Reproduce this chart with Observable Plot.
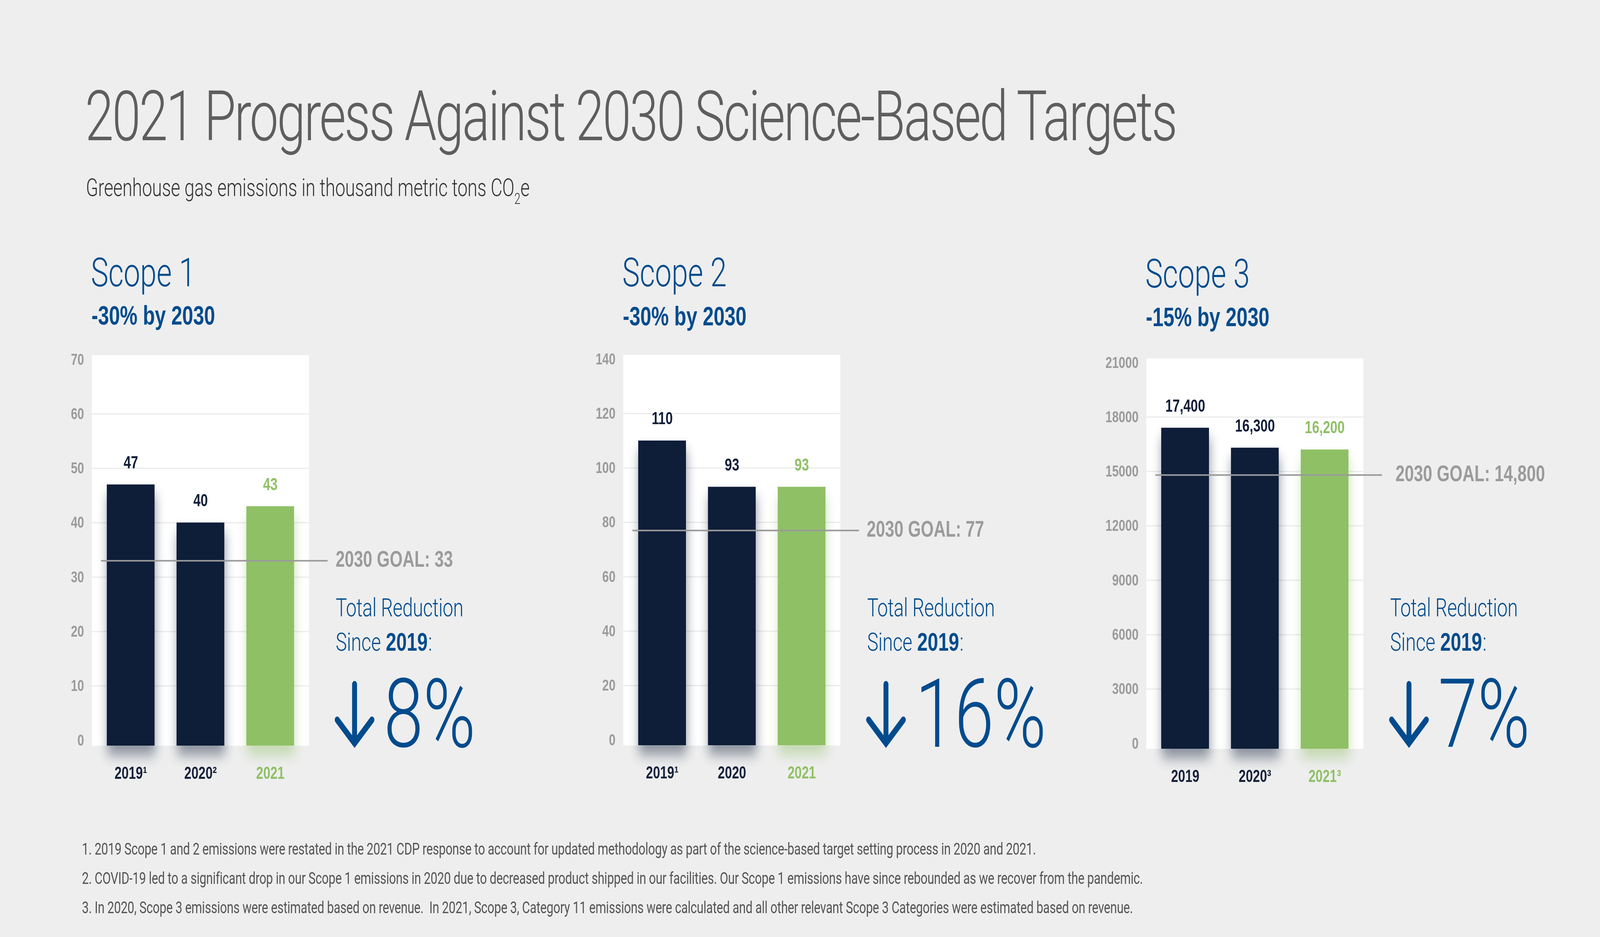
<!DOCTYPE html>
<html>
<head>
<meta charset="utf-8">
<script src="https://cdn.jsdelivr.net/npm/d3@7"></script>
<script src="https://cdn.jsdelivr.net/npm/@observablehq/plot@0.6"></script>
<style>
  html, body { margin: 0; padding: 0; background: #eeeeee; overflow: hidden; }
  #root { position: absolute; left: 0; top: 0; width: 5528px; height: 2399px; transform-origin: 0 0; background: #eeeeee; }
  .abs { position: absolute; }
</style>
</head>
<body>
<div id="root"></div>
<script>
// ---------------- DATA ----------------
const title = "2021 Progress Against 2030 Science-Based Targets";
const subtitleMain = "Greenhouse gas emissions in thousand metric tons CO";
const subtitleSub = "2";
const subtitleTail = "e";

const scopeNames = ["Scope 1", "Scope 2", "Scope 3"];
const scopeTargets = ["-30% by 2030", "-30% by 2030", "-15% by 2030"];

const years = ["2019", "2020", "2021"];
const highlightYear = "2021";

const scope1Values = [47, 40, 43];
const scope2Values = [110, 93, 93];
const scope3Values = [17400, 16300, 16200];

const scope1XLabels = ["2019\u00B9", "2020\u00B2", "2021"];
const scope2XLabels = ["2019\u00B9", "2020", "2021"];
const scope3XLabels = ["2019", "2020\u00B3", "2021\u00B3"];

const scope1Ticks = [0, 10, 20, 30, 40, 50, 60, 70];
const scope2Ticks = [0, 20, 40, 60, 80, 100, 120, 140];
const scope3Ticks = [0, 3000, 6000, 9000, 12000, 15000, 18000, 21000];

const goals2030 = [33, 77, 14800];
const goalPrefix = "2030 GOAL: ";

const reductionLine1 = "Total Reduction";
const reductionLine2 = "Since";
const reductionBaseYear = "2019";
const reductionColon = ":";
const reductions = ["8%", "16%", "7%"];

const footnotes = [
  "1. 2019 Scope 1 and 2 emissions were restated in the 2021 CDP response to account for updated methodology as part of the science-based target setting process in 2020 and 2021.",
  "2. COVID-19 led to a significant drop in our Scope 1 emissions in 2020 due to decreased product shipped in our facilities. Our Scope 1 emissions have since rebounded as we recover from the pandemic.",
  "3. In 2020, Scope 3 emissions were estimated based on revenue.  In 2021, Scope 3, Category 11 emissions were calculated and all other relevant Scope 3 Categories were estimated based on revenue."
];

// ---------------- STYLE / LAYOUT ----------------
const PAGE_W = 5528, PAGE_H = 2399;
const NAVY = "#0e1d38", GREEN = "#8fc066", BLUE = "#004b8d";
const TICK = "#9b9b9b", GOALC = "#9a9a9a", XLAB = "#16213a";
const LIGHT = "Roboto, 'Liberation Sans', sans-serif";
const BOLD = "'Liberation Sans', Arial, Helvetica, sans-serif";
const fmt = d3.format(",");

// fit the 5528x2399 design into whatever viewport the page is photographed in
const root = document.getElementById("root");
function fitPage() {
  const vw = window.innerWidth || PAGE_W;
  const vh = window.innerHeight || PAGE_H;
  const sx = Math.min(1, vw / PAGE_W);
  const sy = Math.min(1, vh / PAGE_H);
  root.style.transform = `scale(${sx}, ${sy})`;
  const w = Math.floor(PAGE_W * sx) + "px", h = Math.floor(PAGE_H * sy) + "px";
  document.body.style.width = w;
  document.body.style.height = h;
  document.documentElement.style.width = w;
  document.documentElement.style.height = h;
}
fitPage();
window.addEventListener("resize", fitPage);

const FRAME_W = 750, ML = 140, MR = 680, MT = 70, MB = 130, IH = 975;
const layout = [
  {frameLeft: 317, y0: 1895, goalDx: 92, headY: 733, targetY: 831},
  {frameLeft: 2153, y0: 1894, goalDx: 91, headY: 733, targetY: 833},
  {frameLeft: 3960, y0: 1903, goalDx: 111, headY: 736, targetY: 835}
];

const panels = [
  {values: scope1Values, ticks: scope1Ticks, xLabels: scope1XLabels},
  {values: scope2Values, ticks: scope2Ticks, xLabels: scope2XLabels},
  {values: scope3Values, ticks: scope3Ticks, xLabels: scope3XLabels}
];

// ---------------- CHARTS ----------------
panels.forEach((p, i) => {
  const L = layout[i];
  const data = years.map((year, j) => ({year, value: p.values[j], xLabel: p.xLabels[j]}));
  const colorOf = d => d.year === highlightYear ? GREEN : NAVY;
  const svg = Plot.plot({
    width: ML + FRAME_W + MR,
    height: MT + IH + MB,
    marginLeft: ML, marginRight: MR, marginTop: MT, marginBottom: MB,
    style: {background: "transparent", overflow: "visible", fontFamily: BOLD},
    x: {type: "band", domain: years, paddingInner: 0.317, paddingOuter: 0.211, axis: null},
    y: {domain: [0, d3.max(p.ticks)]},
    color: {type: "identity"},
    marks: [
      Plot.frame({fill: "white", stroke: null, insetTop: -11, insetBottom: -14}),
      Plot.gridY(p.ticks.slice(1, -1), {stroke: "#ebebeb", strokeOpacity: 1, strokeWidth: 3}),
      Plot.axisY({ticks: p.ticks, tickSize: 0, tickPadding: 27, tickFormat: d => String(d),
        fontSize: 41, fontWeight: 700, fontFamily: BOLD, fill: TICK, label: null}),
      Plot.barY(data, {x: "year", y: "value", fill: colorOf, insetBottom: -14}),
      Plot.ruleY([goals2030[i]], {stroke: GOALC, strokeWidth: 4, insetLeft: 32, insetRight: -65}),
      Plot.text([goals2030[i]], {y: d => d, frameAnchor: "right", textAnchor: "start", lineAnchor: "middle",
        dx: L.goalDx, dy: -3, text: d => goalPrefix + fmt(d),
        fill: TICK, fontSize: 57, fontWeight: 700, fontFamily: BOLD}),
      Plot.text(data, {x: "year", y: "value", text: d => fmt(d.value), dy: -42, lineAnchor: "bottom",
        fill: colorOf, fontSize: 45, fontWeight: 700, fontFamily: BOLD}),
      Plot.text(data, {x: "year", text: "xLabel", frameAnchor: "bottom", lineAnchor: "bottom", dy: 98,
        fill: d => d.year === highlightYear ? GREEN : XLAB, fontSize: 44, fontWeight: 700, fontFamily: BOLD})
    ]
  });
  // soft coloured drop shadows under bars
  const id = "barShadow" + i;
  const s = d3.select(svg);
  const defs = s.insert("defs", ":first-child");
  const f = defs.append("filter").attr("id", id)
    .attr("x", "-60%").attr("y", "-30%").attr("width", "220%").attr("height", "160%")
    .attr("color-interpolation-filters", "sRGB");
  f.append("feGaussianBlur").attr("in", "SourceGraphic").attr("stdDeviation", 17).attr("result", "blur");
  f.append("feOffset").attr("in", "blur").attr("dx", 3).attr("dy", 24).attr("result", "off");
  f.append("feComponentTransfer").attr("in", "off").attr("result", "shadow")
    .append("feFuncA").attr("type", "linear").attr("slope", 0.45);
  const m = f.append("feMerge");
  m.append("feMergeNode").attr("in", "shadow");
  m.append("feMergeNode").attr("in", "SourceGraphic");
  s.selectAll('g[aria-label="bar"] rect').attr("filter", `url(#${id})`);

  svg.classList.add("abs");
  svg.style.left = (L.frameLeft - ML) + "px";
  svg.style.top = (L.y0 - MT - IH) + "px";
  root.appendChild(svg);
});

// ---------------- TEXT OVERLAY ----------------
const ov = d3.select(root).append("svg").attr("class", "abs")
  .style("left", "0px").style("top", "0px").style("pointer-events", "none")
  .attr("width", PAGE_W).attr("height", PAGE_H);

const fits = [];
const chains = [];
function txt(x, y, str, o) {
  const t = ov.append("text").attr("x", x).attr("y", y)
    .attr("font-family", o.family || LIGHT).attr("font-weight", o.weight || 300)
    .attr("font-size", o.size).attr("fill", o.fill || "#000")
    .style("white-space", "pre");
  if (str != null) t.text(str);
  if (o.width) fits.push([t.node(), o.width]);
  return t;
}

txt(294, 359, title, {size: 178, fill: "#5e5e5e", weight: 300, width: 3769});
const sub = txt(297, 502, null, {size: 62, fill: "#333333", weight: 300, width: 1533});
sub.append("tspan").text(subtitleMain);
sub.append("tspan").attr("font-size", 38).attr("dy", 20).text(subtitleSub);
sub.append("tspan").attr("dy", -20).text(subtitleTail);

layout.forEach((L, i) => {
  txt(L.frameLeft - 3, L.headY, scopeNames[i], {size: 102, fill: BLUE, weight: 300});
  txt(L.frameLeft - 1, L.targetY, scopeTargets[i], {size: 68, fill: BLUE, weight: 700, family: BOLD});
  const TR = L.frameLeft + FRAME_W + 96;
  txt(TR - 3, 1578, reductionLine1, {size: 65, fill: BLUE, weight: 300, width: 441});
  // "Since 2019:" as three separate, side-by-side texts
  const a = txt(TR - 3, 1666, reductionLine2, {size: 65, fill: BLUE, weight: 300});
  const b = txt(TR - 3, 1666, reductionBaseYear, {size: 65, fill: BLUE, weight: 700, family: BOLD});
  const c = txt(TR - 3, 1666, reductionColon, {size: 65, fill: BLUE, weight: 300});
  chains.push({x0: TR - 3, parts: [a.node(), b.node(), c.node()], gaps: [17, 2]});
  // arrow
  ov.append("path")
    .attr("d", `M${TR + 62},1752V1895M${TR + 2},1843L${TR + 62},1903L${TR + 122},1843`)
    .attr("fill", "none").attr("stroke", BLUE).attr("stroke-width", 17)
    .attr("stroke-linecap", "round").attr("stroke-linejoin", "miter");
  txt(TR + 163, 1912, reductions[i], {size: 245, fill: BLUE, weight: 300});
});

const footWidths = [3296, 3664, 3631];
footnotes.forEach((f, i) => {
  txt(283, 2188 + i * 75, f, {size: 42, fill: "#555555", weight: 400, width: footWidths[i]});
});

function applyFits() {
  fits.forEach(([el, target]) => {
    el.setAttribute("letter-spacing", 0);
    const w = el.getComputedTextLength();
    const n = el.textContent.length;
    el.setAttribute("letter-spacing", ((target - w) / n).toFixed(3));
  });
  chains.forEach(({x0, parts, gaps}) => {
    let x = x0;
    parts.forEach((el, k) => {
      el.setAttribute("x", x.toFixed(1));
      x += el.getComputedTextLength() + (gaps[k] || 0);
    });
  });
}
applyFits();
if (document.fonts && document.fonts.ready) document.fonts.ready.then(applyFits);
</script>
</body>
</html>
